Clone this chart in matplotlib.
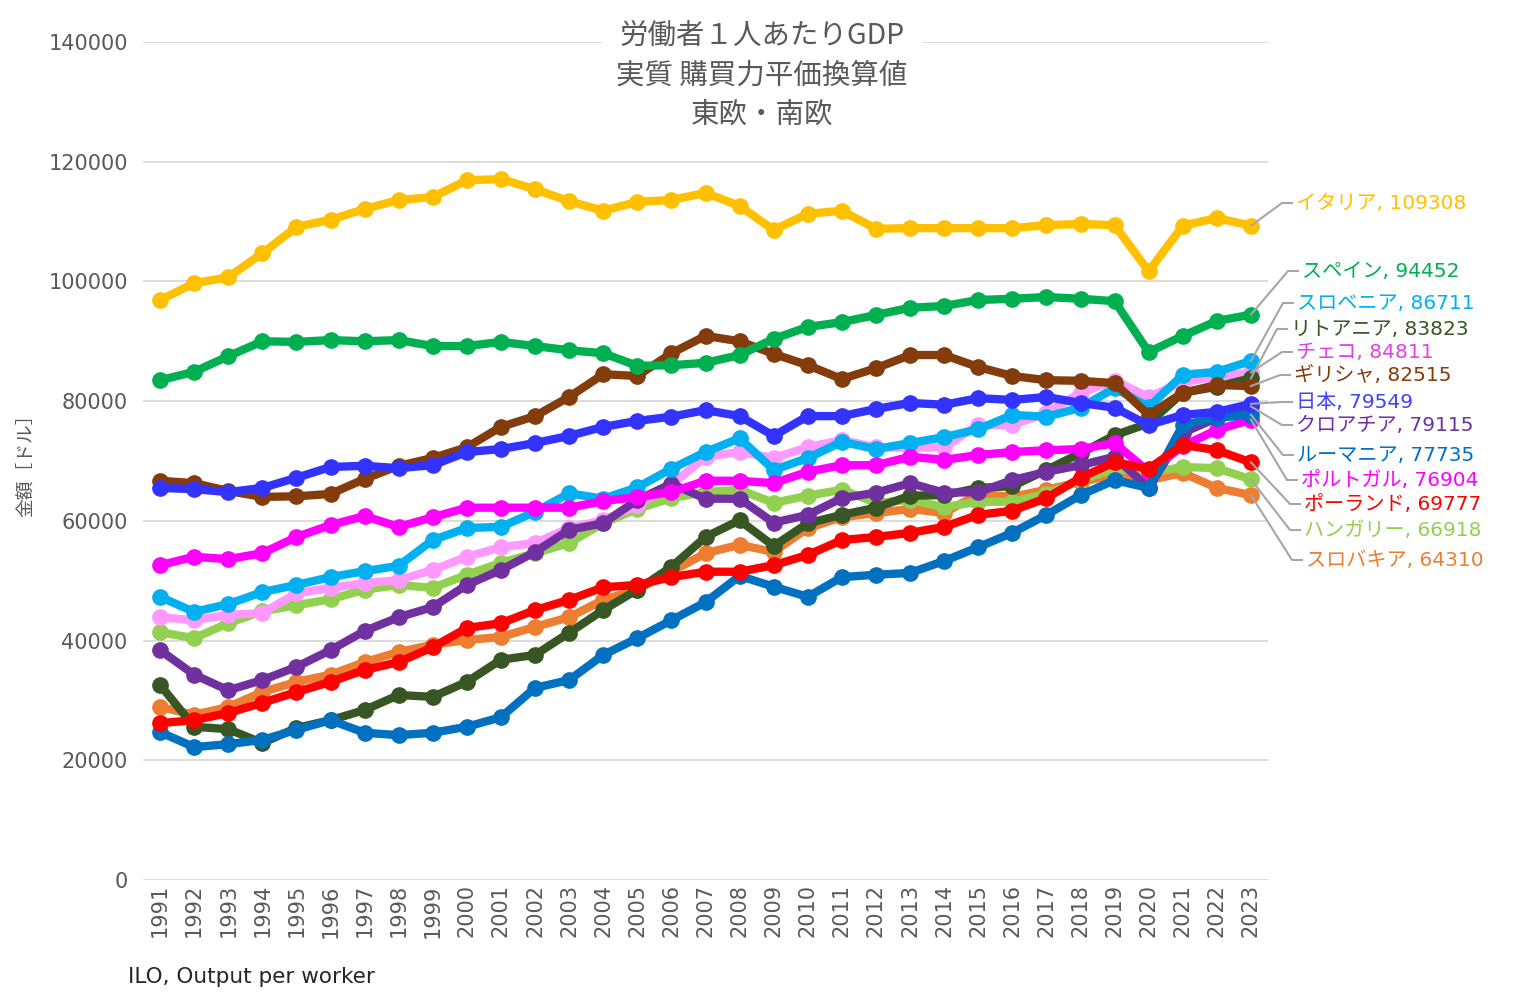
import matplotlib.pyplot as plt

plt.rcParams['font.family'] = ['DejaVu Sans', 'Noto Sans CJK JP']

years = list(range(1991, 2024))

italy = [96900, 99700, 100700, 104700, 109100, 110300, 112100, 113600, 114100, 116900,
         117100, 115400, 113400, 111800, 113300, 113600, 114800, 112600, 108600, 111300,
         111800, 108800, 108900, 108900, 108900, 108900, 109400, 109600, 109400, 101700,
         109300, 110600, 109308]
spain = [83500, 84900, 87500, 90000, 89900, 90200, 90000, 90200, 89200, 89200,
         89900, 89200, 88500, 88000, 85900, 86000, 86400, 87700, 90400, 92400,
         93200, 94400, 95600, 95900, 96900, 97100, 97400, 97100, 96700, 88200,
         90900, 93400, 94452]
slovenia = [47300, 44800, 46100, 48100, 49300, 50600, 51600, 52500, 56800, 58800,
            59000, 61500, 64600, 63700, 65600, 68700, 71500, 73800, 68500, 70500,
            73200, 72000, 73000, 74000, 75300, 77700, 77400, 78900, 82200, 79000,
            84400, 84900, 86711]
lithuania = [32600, 25600, 25200, 22900, 25400, 26700, 28400, 30900, 30600, 33100,
             36800, 37600, 41300, 45100, 48500, 52300, 57300, 60100, 55800, 59600,
             61000, 62200, 64200, 64300, 65500, 65800, 68500, 71300, 74300, 76300,
             81400, 82400, 83823]
czech = [43900, 43400, 44300, 44600, 47900, 48800, 49600, 50100, 51800, 54000,
         55600, 56300, 58800, 60100, 62600, 66000, 70700, 71500, 70500, 72300,
         73500, 72300, 72200, 72300, 76000, 76000, 78000, 81400, 83400, 80700,
         83200, 84000, 84811]
greece = [66700, 66300, 65000, 64000, 64100, 64500, 67000, 69200, 70500, 72300,
          75700, 77500, 80700, 84500, 84200, 88000, 90900, 90000, 87900, 86000,
          83700, 85500, 87700, 87700, 85700, 84200, 83500, 83400, 83000, 77700,
          81400, 82700, 82515]
japan = [65500, 65300, 64800, 65500, 67200, 69000, 69200, 68800, 69300, 71500,
         72000, 73000, 74200, 75700, 76700, 77400, 78500, 77500, 74200, 77500,
         77500, 78700, 79700, 79400, 80500, 80200, 80700, 79700, 78900, 76000,
         77700, 78200, 79549]
croatia = [38400, 34300, 31700, 33400, 35600, 38400, 41600, 43900, 45600, 49300,
           51800, 54800, 58500, 59600, 63500, 66200, 63700, 63700, 59700, 61000,
           63800, 64700, 66300, 64700, 64800, 66800, 68200, 69300, 70700, 65500,
           74700, 77200, 79115]
romania = [24700, 22200, 22700, 23400, 25100, 26700, 24600, 24200, 24600, 25600,
           27200, 32100, 33400, 37600, 40400, 43400, 46400, 50800, 49000, 47300,
           50600, 51000, 51300, 53300, 55600, 58000, 61000, 64300, 66800, 65500,
           76000, 77200, 77735]
portugal = [52600, 54000, 53600, 54600, 57300, 59300, 60800, 59000, 60600, 62200,
            62200, 62200, 62200, 63300, 64000, 64800, 66700, 66700, 66300, 68200,
            69300, 69300, 70700, 70200, 71000, 71500, 71800, 72000, 73000, 68200,
            72500, 75200, 76904]
poland = [26200, 26700, 27900, 29600, 31400, 33100, 35100, 36400, 38900, 42100,
          42900, 45100, 46800, 48900, 49300, 50600, 51500, 51500, 52600, 54300,
          56800, 57300, 58000, 59000, 61000, 61700, 63800, 67200, 69800, 68700,
          72700, 71800, 69777]
hungary = [41400, 40400, 42900, 44900, 45900, 46900, 48500, 49300, 48800, 51000,
           53000, 54600, 56300, 59600, 62000, 63800, 64800, 65200, 63000, 64200,
           65200, 63000, 63500, 62300, 63200, 63200, 64500, 66800, 68700, 68000,
           69000, 68800, 66918]
slovakia = [28900, 27600, 28900, 31400, 33100, 34300, 36400, 38100, 39300, 40100,
            40600, 42300, 43900, 46800, 48500, 51500, 54600, 56000, 54800, 58800,
            60600, 61300, 62000, 61300, 64500, 64000, 65200, 66500, 67700, 66800,
            68000, 65500, 64310]

names = ['イタリア', 'スペイン', 'スロベニア', 'リトアニア', 'チェコ', 'ギリシャ', '日本',
         'クロアチア', 'ルーマニア', 'ポルトガル', 'ポーランド', 'ハンガリー', 'スロバキア']
values = [italy, spain, slovenia, lithuania, czech, greece, japan,
          croatia, romania, portugal, poland, hungary, slovakia]
colors = ['#FFC000', '#00B050', '#00B0F0', '#375623', '#FF99FF', '#843C0C', '#3333FF',
          '#7030A0', '#0070C0', '#FF00FF', '#FF0000', '#92D050', '#ED7D31']
label_colors = ['#FFC000', '#00B050', '#00B0F0', '#375623', '#E83CE8', '#843C0C', '#4040FF',
                '#7030A0', '#0070C0', '#FF00FF', '#FF0000', '#92D050', '#ED7D31']
# label placement in pixels: text centre y, elbow x
label_py = [203, 271, 303, 329, 352, 375, 402, 425, 455, 480, 504, 530, 560]
elbow_px = [1282, 1288, 1283, 1277, 1282, 1280, 1282, 1282, 1283, 1287, 1290, 1290, 1292]
draw_order = [12, 11, 4, 3, 7, 2, 9, 8, 10, 5, 6, 1, 0]

W, H = 1524, 996
fig = plt.figure(figsize=(W / 100, H / 100), dpi=100)
ax = fig.add_axes([143 / W, 116 / H, 1125 / W, 838 / H])

for i in draw_order:
    ax.plot(years, values[i], color=colors[i], lw=6, marker='o', markersize=11,
            solid_joinstyle='round', solid_capstyle='round', zorder=3 + draw_order.index(i) * 0.01)

ax.set_xlim(1990.5, 2023.5)
ax.set_ylim(0, 140000)
ax.set_yticks(range(0, 140001, 20000))
ax.set_xticks(years)
ax.set_xticklabels([str(y) for y in years], rotation=90)
ax.yaxis.grid(True, color='#D9D9D9', lw=1.3)
ax.set_axisbelow(True)
for s in ax.spines.values():
    s.set_visible(False)
ax.tick_params(axis='both', length=0, colors='#595959', labelsize=15)
ax.tick_params(axis='y', pad=11)
ax.tick_params(axis='x', pad=3)

ax.set_ylabel('金額［ドル］', fontsize=13.5, color='#595959', labelpad=9)

# leader lines and end labels
inv = ax.transData.inverted()
for i in range(len(names)):
    v = values[i][-1]
    x0, y0 = years[-1], v
    ex, ey = inv.transform((elbow_px[i], H - label_py[i]))
    hx, _ = inv.transform((elbow_px[i] + 10, 0))
    ax.plot([x0, ex, hx], [y0, ey, ey], color='#A6A6A6', lw=1.5, clip_on=False, zorder=5)
    tx, _ = inv.transform((elbow_px[i] + 14, 0))
    ax.text(tx, ey, '%s, %d' % (names[i], v), color=label_colors[i], fontsize=14.5,
            va='center', ha='left', clip_on=False)

fig.text(0.5, 1 - 21 / H, '労働者１人あたりGDP\n実質 購買力平価換算値\n東欧・南欧',
         ha='center', va='top', fontsize=20.5, color='#595959', linespacing=1.4,
         family=['Noto Sans CJK JP', 'DejaVu Sans'],
         bbox=dict(facecolor='white', edgecolor='none', pad=10))

fig.text(128 / W, 1 - 977 / H, 'ILO, Output per worker', fontsize=15.5, color='#262626',
         ha='left', va='center')

fig.savefig('out.png', dpi=100)
